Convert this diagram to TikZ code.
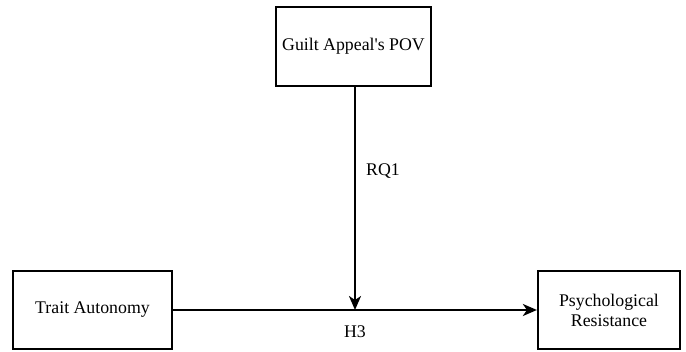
\documentclass[tikz,border=0pt]{standalone}
\usepackage{fontspec}
\setmainfont{Liberation Serif}
\usetikzlibrary{arrows.meta}
\begin{document}
\begin{tikzpicture}[x=1pt,y=-1pt,
  boxst/.style={draw, line width=2.2pt, minimum width=#1, align=center, font=\fontsize{17.8}{20}\selectfont, inner sep=0pt},
  arr/.style={line width=2.2pt, -{Stealth[length=14pt,width=12pt,inset=4pt]}},
  lbl/.style={font=\fontsize{17.8}{20}\selectfont, inner sep=0pt}]
\useasboundingbox (0,0) rectangle (686,352);
\node[boxst=155pt, minimum height=79pt] (pov) at (353.5,46.5) {Guilt Appeal\textquotesingle s POV};
\node[boxst=159pt, minimum height=78pt] (ta) at (92.5,310) {Trait Autonomy};
\node[boxst=142pt, minimum height=78pt] (pr) at (609,310) {Psychological\\Resistance};
\coordinate (mid) at (355,310);
\draw[arr] (ta.east) -- (pr.west);
\draw[arr] (pov.south -| mid) -- (mid);
\node[lbl] (rq) at (383,171) {RQ1};
\node[lbl] (h3) at (355,332) {H3};
\end{tikzpicture}
\end{document}
